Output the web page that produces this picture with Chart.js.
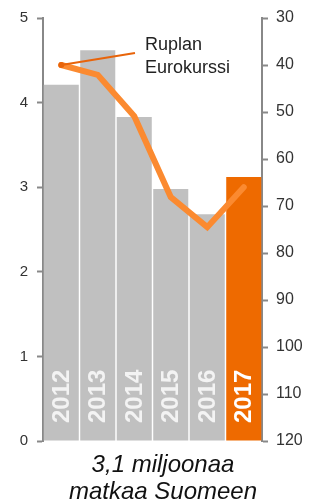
<!DOCTYPE html>
<html>
<head>
<meta charset="utf-8">
<script src="https://cdn.jsdelivr.net/npm/chart.js@4"></script>
<style>
  body { margin: 0; background: #fff; font-family: "Liberation Sans", Arial, sans-serif; }
  #wrap { position: relative; width: 314px; height: 502px; }
  #note { position: absolute; left: 145px; top: 33px; font-size: 18px; line-height: 23px; color: #222; }
  #caption { position: absolute; left: 12px; width: 302px; top: 450px; text-align: center;
             font-style: italic; font-size: 24px; line-height: 27px; color: #111; }
</style>
</head>
<body>
<div id="wrap">
  <canvas id="chart" width="314" height="502"></canvas>
  <div id="note">Ruplan<br>Eurokurssi</div>
  <div id="caption">3,1 miljoonaa<br>matkaa Suomeen</div>
</div>
<script>
var years = ['2012', '2013', '2014', '2015', '2016', '2017'];
var trips = [4.21, 4.62, 3.83, 2.98, 2.68, 3.12];      // miljoonaa matkaa
var rubleRate = [40.0, 42.1, 50.9, 68.1, 74.5, 66.0];   // RUB / EUR
var leftTicks = [0, 1, 2, 3, 4, 5];
var rightTicks = [30, 40, 50, 60, 70, 80, 90, 100, 110, 120];

var grey = '#c0c0c0';
var orange = '#ee6a00';
var barColors = years.map(function(y, i){ return i == years.length - 1 ? orange : grey; });

// year labels inside bars
var yearLabels = {
  id: 'yearLabels',
  afterDatasetsDraw: function(chart){
    var ctx = chart.ctx;
    var meta = chart.getDatasetMeta(1);
    var bottom = chart.scales.y.getPixelForValue(0);
    ctx.save();
    ctx.font = 'bold 24px "Liberation Sans", Arial, sans-serif';
    ctx.textBaseline = 'middle';
    ctx.textAlign = 'left';
    meta.data.forEach(function(bar, i){
      ctx.save();
      ctx.translate(bar.x, bottom - 18);
      ctx.rotate(-Math.PI / 2);
      ctx.fillStyle = i == years.length - 1 ? '#ffffff' : '#f3f3f3';
      ctx.fillText(years[i], 0, 1);
      ctx.restore();
    });
    ctx.restore();
  }
};

// leader line from first rate point to the note
var leader = {
  id: 'leader',
  afterDatasetsDraw: function(chart){
    var p = chart.getDatasetMeta(0).data[0];
    var ctx = chart.ctx;
    ctx.save();
    ctx.strokeStyle = '#e8640a';
    ctx.fillStyle = '#e8640a';
    ctx.lineWidth = 2;
    ctx.beginPath();
    ctx.moveTo(p.x, p.y);
    ctx.lineTo(135, 53);
    ctx.stroke();
    ctx.beginPath();
    ctx.arc(p.x, p.y, 3, 0, Math.PI * 2);
    ctx.fill();
    ctx.restore();
  }
};

new Chart(document.getElementById('chart'), {
  data: {
    labels: years,
    datasets: [
      {
        type: 'line',
        label: 'Ruplan Eurokurssi',
        data: rubleRate,
        yAxisID: 'y2',
        borderColor: '#fb8a30',
        borderWidth: 6,
        borderCapStyle: 'round',
        pointRadius: 0,
        tension: 0,
        order: 0
      },
      {
        type: 'bar',
        label: 'Matkat',
        data: trips,
        yAxisID: 'y',
        backgroundColor: barColors,
        barPercentage: 0.96,
        categoryPercentage: 1,
        order: 1
      }
    ]
  },
  options: {
    responsive: false,
    animation: false,
    layout: { padding: { top: 18, bottom: 61, left: 0, right: 0 } },
    plugins: { legend: { display: false }, tooltip: { enabled: false } },
    scales: {
      x: { display: false },
      y: {
        position: 'left',
        min: 0, max: 5,
        afterFit: function(s){ s.width = 43; },
        afterBuildTicks: function(s){ s.ticks = leftTicks.map(function(v){ return {value: v}; }); },
        border: { color: '#888', width: 2 },
        grid: { drawOnChartArea: false, tickLength: 6, tickColor: '#888', tickWidth: 2 },
        ticks: { color: '#333', padding: 9, font: { family: '"Liberation Sans", Arial', size: 15 } }
      },
      y2: {
        position: 'right',
        reverse: true,
        min: 30, max: 120,
        afterFit: function(s){ s.width = 52; },
        afterBuildTicks: function(s){ s.ticks = rightTicks.map(function(v){ return {value: v}; }); },
        border: { color: '#888', width: 2 },
        grid: { drawOnChartArea: false, tickLength: 6, tickColor: '#888', tickWidth: 2 },
        ticks: { color: '#333', padding: 8, font: { family: '"Liberation Sans", Arial', size: 16 } }
      }
    }
  },
  plugins: [yearLabels, leader]
});
</script>
</body>
</html>
